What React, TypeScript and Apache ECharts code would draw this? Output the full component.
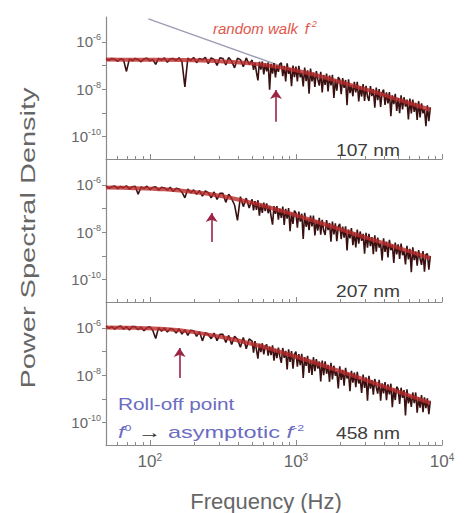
import { useEffect, useRef } from "react";
import * as echarts from "echarts";

// log10 of frequency (Hz), shared sampling grid of the three spectra
const logFreq = [
  1.70, 1.72, 1.74, 1.76, 1.78, 1.80, 1.82, 1.84, 1.86, 1.88,
  1.90, 1.92, 1.94, 1.96, 1.98, 2.00, 2.02, 2.04, 2.06, 2.08,
  2.10, 2.12, 2.14, 2.16, 2.18, 2.20, 2.22, 2.24, 2.26, 2.28,
  2.30, 2.32, 2.34, 2.36, 2.38, 2.40, 2.42, 2.44, 2.46, 2.48,
  2.50, 2.52, 2.54, 2.56, 2.58, 2.60, 2.62, 2.64, 2.66, 2.68,
  2.70, 2.71, 2.72, 2.73, 2.74, 2.75, 2.76, 2.77, 2.78, 2.79,
  2.80, 2.81, 2.82, 2.83, 2.84, 2.85, 2.86, 2.87, 2.88, 2.89,
  2.90, 2.91, 2.92, 2.93, 2.94, 2.95, 2.96, 2.97, 2.98, 2.99,
  3.00, 3.01, 3.02, 3.03, 3.04, 3.05, 3.06, 3.07, 3.08, 3.09,
  3.10, 3.11, 3.12, 3.13, 3.14, 3.15, 3.16, 3.17, 3.18, 3.19,
  3.20, 3.21, 3.22, 3.23, 3.24, 3.25, 3.26, 3.27, 3.28, 3.29,
  3.30, 3.31, 3.32, 3.33, 3.34, 3.35, 3.36, 3.37, 3.38, 3.39,
  3.40, 3.41, 3.42, 3.43, 3.44, 3.45, 3.46, 3.47, 3.48, 3.49,
  3.50, 3.51, 3.52, 3.53, 3.54, 3.55, 3.56, 3.57, 3.58, 3.59,
  3.60, 3.61, 3.62, 3.63, 3.64, 3.65, 3.66, 3.67, 3.68, 3.69,
  3.70, 3.71, 3.72, 3.73, 3.74, 3.75, 3.76, 3.77, 3.78, 3.79,
  3.80, 3.81, 3.82, 3.83, 3.84, 3.85, 3.86, 3.87, 3.88, 3.89,
  3.90, 3.91, 3.92,
];

// log10 of power spectral density
const log10Psd107nm = [
  -6.72, -6.78, -6.70, -6.74, -6.82, -6.71, -6.76, -7.25, -6.72, -6.80,
  -6.70, -6.75, -6.84, -6.72, -6.69, -6.80, -6.74, -6.95, -6.70, -6.77,
  -6.68, -6.86, -6.72, -6.70, -6.79, -6.67, -6.84, -7.90, -6.69, -6.78,
  -6.66, -6.88, -6.70, -6.76, -6.65, -6.92, -6.68, -6.74, -7.00, -6.67,
  -6.70, -6.98, -6.66, -6.82, -7.10, -6.69, -6.75, -7.05, -6.68, -6.95,
  -6.77, -7.18, -6.89, -7.29, -7.63, -6.84, -7.17, -6.83, -7.38, -6.91,
  -7.25, -6.87, -8.02, -6.93, -7.34, -6.90, -7.50, -7.01, -7.27, -6.93,
  -6.89, -7.45, -7.01, -7.67, -6.91, -7.35, -7.11, -7.87, -7.00, -7.49,
  -7.05, -7.67, -7.01, -7.50, -7.31, -7.88, -7.09, -7.66, -7.20, -8.19,
  -7.13, -7.67, -7.30, -7.90, -7.24, -7.59, -7.85, -7.27, -8.14, -7.40,
  -7.82, -7.34, -8.10, -7.42, -7.84, -7.39, -8.37, -7.59, -8.06, -7.49,
  -7.59, -8.21, -7.53, -7.94, -7.61, -8.68, -7.58, -8.17, -7.83, -8.30,
  -7.69, -8.14, -7.69, -8.52, -7.89, -8.31, -7.78, -8.50, -7.86, -8.31,
  -8.50, -7.87, -8.29, -7.99, -8.78, -7.93, -8.46, -8.00, -8.75, -8.14,
  -8.02, -8.66, -8.13, -8.60, -8.12, -9.14, -8.26, -8.63, -8.20, -8.92,
  -8.39, -9.01, -8.26, -8.85, -8.34, -8.74, -8.44, -9.28, -8.40, -9.02,
  -8.44, -8.96, -8.58, -9.30, -8.50, -9.19, -8.60, -9.02, -8.84, -9.56,
  -8.68, -9.35, -8.77,
];

const log10Psd207nm = [
  -6.06, -6.14, -6.08, -6.05, -6.16, -6.07, -6.12, -6.04, -6.18, -6.08,
  -6.06, -6.40, -6.09, -6.15, -6.06, -6.20, -6.11, -6.08, -6.22, -6.10,
  -6.13, -6.22, -6.10, -6.28, -6.14, -6.18, -6.31, -6.55, -6.17, -6.34,
  -6.21, -6.40, -6.24, -6.48, -6.26, -6.33, -6.55, -6.30, -6.62, -6.36,
  -6.36, -6.74, -6.40, -6.58, -6.85, -7.50, -6.50, -6.92, -6.56, -6.98,
  -6.61, -7.08, -6.69, -7.06, -6.65, -7.30, -6.81, -7.18, -6.75, -7.11,
  -6.78, -7.20, -6.91, -7.33, -7.68, -6.90, -7.23, -6.90, -7.47, -7.00,
  -7.40, -6.92, -7.69, -7.01, -7.43, -6.98, -7.96, -7.18, -7.65, -7.09,
  -7.19, -7.81, -7.13, -7.55, -7.22, -8.29, -7.18, -7.77, -7.44, -7.91,
  -7.30, -7.75, -7.30, -8.14, -7.51, -7.93, -7.39, -8.11, -7.48, -7.93,
  -8.12, -7.49, -7.91, -7.61, -8.40, -7.55, -8.09, -7.63, -8.38, -7.77,
  -7.65, -8.29, -7.76, -8.23, -7.75, -8.77, -7.89, -8.26, -7.83, -8.55,
  -8.02, -8.64, -7.89, -8.48, -7.97, -8.37, -8.07, -8.91, -8.03, -8.65,
  -8.07, -8.59, -8.21, -8.93, -8.13, -8.82, -8.23, -8.65, -8.47, -9.19,
  -8.26, -8.83, -8.40, -9.07, -8.32, -8.76, -8.53, -9.30, -8.44, -8.94,
  -8.51, -9.13, -8.48, -8.97, -8.79, -9.36, -8.58, -9.15, -8.70, -9.69,
  -8.64, -9.18, -8.82, -9.42, -8.76, -9.11, -9.38, -8.80, -9.67, -8.94,
  -8.91, -9.58, -9.00,
];

const log10Psd458nm = [
  -5.93, -6.02, -5.95, -6.05, -5.96, -5.92, -6.06, -5.95, -6.09, -5.94,
  -5.96, -6.08, -5.97, -6.12, -6.00, -5.95, -6.10, -6.45, -5.99, -6.14,
  -6.01, -6.18, -6.03, -6.07, -6.22, -6.04, -6.26, -6.08, -6.32, -6.10,
  -6.12, -6.36, -6.16, -6.55, -6.20, -6.28, -6.46, -6.22, -6.54, -6.27,
  -6.27, -6.62, -6.32, -6.70, -6.36, -6.48, -6.82, -6.41, -6.88, -6.47,
  -6.56, -7.05, -6.56, -6.93, -7.30, -6.67, -7.03, -6.65, -7.12, -6.78,
  -6.70, -7.17, -6.79, -7.15, -6.74, -7.39, -6.91, -7.28, -6.84, -7.21,
  -7.48, -6.85, -7.27, -6.97, -7.76, -6.91, -7.44, -6.98, -7.73, -7.12,
  -7.00, -7.64, -7.11, -7.58, -7.10, -8.12, -7.24, -7.61, -7.18, -7.90,
  -7.37, -7.99, -7.24, -7.83, -7.32, -7.72, -7.42, -8.26, -7.38, -8.00,
  -7.42, -7.94, -7.56, -8.28, -7.48, -8.18, -7.60, -8.02, -7.84, -8.56,
  -7.63, -8.20, -7.77, -8.44, -7.69, -8.14, -7.91, -8.68, -7.82, -8.32,
  -7.89, -8.51, -7.86, -8.35, -8.17, -8.75, -7.97, -8.54, -8.09, -9.08,
  -8.03, -8.57, -8.21, -8.82, -8.16, -8.51, -8.78, -8.20, -9.08, -8.35,
  -8.77, -8.29, -9.06, -8.39, -8.81, -8.36, -9.35, -8.57, -9.05, -8.49,
  -8.59, -9.21, -8.53, -8.96, -8.63, -9.70, -8.60, -9.19, -8.87, -9.34,
  -8.73, -9.18, -8.73, -9.58, -8.95, -9.37, -8.84, -9.56, -8.94, -9.39,
  -8.98, -9.65, -9.08,
];

// fitted (red) curves
const fitLogFreq = [1.70, 1.90, 2.10, 2.30, 2.50, 2.70, 2.90, 3.10, 3.30, 3.50, 3.70, 3.92];
const fit107nm = [-6.75, -6.755, -6.76, -6.78, -6.83, -6.92, -7.09, -7.35, -7.69, -8.05, -8.44, -8.87];
const fit207nm = [-6.115, -6.14, -6.19, -6.30, -6.48, -6.76, -7.10, -7.48, -7.87, -8.27, -8.66, -9.10];
const fit458nm = [-5.98, -6.00, -6.05, -6.18, -6.40, -6.68, -7.03, -7.42, -7.83, -8.25, -8.69, -9.18];

const panelLabels = ["107 nm", "207 nm", "458 nm"];
const rollOffHz = [730, 265, 160];
const arrowTailLogPsd = [-9.38, -8.41, -8.12];
const arrowTipLogPsd = [-8.03, -7.19, -6.85];

// random walk f^-2 guide line (panel 1)
const randomWalkLogFreq = [1.99, 2.9];
const randomWalkLogPsd = [-5.03, -7.03];

const xMajorHz = [100, 1000, 10000];
const xMinorHz = [60, 70, 80, 90, 200, 300, 400, 500, 600, 700, 800, 900, 2000, 3000, 4000, 5000, 6000, 7000, 8000, 9000];
const yMajorExp = [-10, -8, -6];
const yAllExp = [-10, -9, -8, -7, -6];

const X_MIN = 1.7;
const X_MAX = 4.0;
const Y_MIN = -10.95;
const Y_MAX = -4.95;

const FONT = "'Liberation Sans', Arial, Helvetica, sans-serif";
const AXIS = "#8a8a8a";
const LABEL = "#666666";

export default function App() {
  const ref = useRef<HTMLDivElement>(null);

  useEffect(() => {
    if (!ref.current) return;
    const chart = echarts.init(ref.current, null, { renderer: "svg" });

    const psd = [log10Psd107nm, log10Psd207nm, log10Psd458nm];
    const fits = [fit107nm, fit207nm, fit458nm];
    const tops = [17, 160, 303];

    const grids = tops.map((t) => ({ left: 106, width: 336, top: t, height: 142 }));

    const xAxes: any[] = [];
    const yAxes: any[] = [];
    const series: any[] = [];

    for (let i = 0; i < 3; i++) {
      const isBottom = i === 2;
      xAxes.push({
        type: "value",
        gridIndex: i,
        position: "bottom",
        min: X_MIN,
        max: X_MAX,
        axisLine: { show: true, onZero: false, lineStyle: { color: AXIS, width: 1.2 } },
        axisTick: {
          show: true,
          inside: true,
          length: 3,
          customValues: xMinorHz.map((v) => Math.log10(v)),
          lineStyle: { color: AXIS },
        },
        axisLabel: { show: false },
        splitLine: { show: false },
      });
      xAxes.push({
        type: "value",
        gridIndex: i,
        position: "bottom",
        min: X_MIN,
        max: X_MAX,
        axisLine: { show: false, onZero: false },
        axisTick: {
          show: true,
          inside: true,
          length: 5,
          customValues: xMajorHz.map((v) => Math.log10(v)),
          lineStyle: { color: AXIS },
        },
        axisLabel: {
          show: isBottom,
          margin: 7,
          customValues: xMajorHz.map((v) => Math.log10(v)),
          formatter: (v: number) => `{b|10}{s|${Math.round(v)}}`,
          rich: {
            b: { fontSize: 17, color: LABEL, fontFamily: FONT },
            s: { fontSize: 10, color: LABEL, fontFamily: FONT, padding: [0, 0, 9, 0] },
          },
        },
        splitLine: { show: false },
      });
      yAxes.push({
        type: "value",
        gridIndex: i,
        min: Y_MIN,
        max: Y_MAX,
        axisLine: { show: true, onZero: false, lineStyle: { color: AXIS, width: 1.2 } },
        axisTick: {
          show: true,
          inside: false,
          length: 4,
          customValues: yAllExp,
          lineStyle: { color: AXIS },
        },
        axisLabel: {
          show: true,
          margin: 5,
          customValues: yMajorExp,
          formatter: (v: number) => `{b|10}{s|${Math.round(v)}}`,
          rich: {
            b: { fontSize: 15, color: LABEL, fontFamily: FONT },
            s: { fontSize: 9, color: LABEL, fontFamily: FONT, padding: [0, 0, 9, 0] },
          },
        },
        splitLine: { show: false },
      });

      if (i === 0) {
        series.push({
          type: "line",
          xAxisIndex: 0,
          yAxisIndex: 0,
          data: randomWalkLogFreq.map((f, k) => [f, randomWalkLogPsd[k]]),
          symbol: "none",
          lineStyle: { color: "#9c9cb6", width: 1.3 },
          z: 1,
          silent: true,
        });
      }

      const lx = Math.log10(rollOffHz[i]);
      series.push({
        type: "line",
        xAxisIndex: 2 * i,
        yAxisIndex: i,
        data: logFreq.map((f, k) => [f, psd[i][k]]),
        symbol: "none",
        lineStyle: { color: "#3a1010", width: 1.6 },
        z: 2,
        silent: true,
        markLine: {
          silent: true,
          symbol: ["none", "arrow"],
          symbolSize: 9,
          label: { show: false },
          lineStyle: { color: "#9b2545", width: 1.6, type: "solid" },
          data: [[{ coord: [lx, arrowTailLogPsd[i]] }, { coord: [lx, arrowTipLogPsd[i]] }]],
        },
      });
      series.push({
        type: "line",
        xAxisIndex: 2 * i,
        yAxisIndex: i,
        data: fitLogFreq.map((f, k) => [f, fits[i][k]]),
        symbol: "none",
        smooth: 0.3,
        lineStyle: { color: "#b82a2a", width: 4, opacity: 0.8 },
        z: 3,
        silent: true,
      });
    }

    const labelYs = [151, 292, 434];
    const blue = "#6c6cc2";
    const elements: any[] = [
      {
        type: "text",
        x: 28,
        y: 238,
        rotation: Math.PI / 2,
        scaleX: 1.45,
        style: {
          text: "Power Spectral Density",
          fontSize: 20,
          fontFamily: FONT,
          fill: LABEL,
          align: "center",
          textAlign: "center",
          verticalAlign: "middle",
          textVerticalAlign: "middle",
        },
      },
      {
        type: "text",
        x: 266,
        y: 501,
        style: {
          text: "Frequency (Hz)",
          fontSize: 22,
          fontFamily: FONT,
          fill: LABEL,
          align: "center",
          textAlign: "center",
          verticalAlign: "middle",
          textVerticalAlign: "middle",
        },
      },
      {
        type: "text",
        x: 213,
        y: 28,
        style: {
          text: "{t|random walk}  {t|f}{s|-2}",
          fill: "#e0564c",
          fontFamily: FONT,
          align: "left",
          textAlign: "left",
          verticalAlign: "middle",
          textVerticalAlign: "middle",
          rich: {
            t: { fontSize: 15, fontStyle: "italic", fill: "#e0564c", color: "#e0564c", fontFamily: FONT },
            s: { fontSize: 9, fontStyle: "italic", fill: "#e0564c", color: "#e0564c", fontFamily: FONT, padding: [0, 0, 8, 0] },
          },
        },
      },
      {
        type: "text",
        x: 118,
        y: 404,
        scaleX: 1.3,
        style: {
          text: "Roll-off point",
          fontSize: 16,
          fontFamily: FONT,
          fill: blue,
          align: "left",
          textAlign: "left",
          verticalAlign: "middle",
          textVerticalAlign: "middle",
        },
      },
      {
        type: "text",
        x: 118,
        y: 432,
        scaleX: 1.38,
        style: {
          text: "{i|f}{s|0}{a| → }{n|asymptotic }{i|f}{s|-2}",
          fontFamily: FONT,
          fill: blue,
          align: "left",
          textAlign: "left",
          verticalAlign: "middle",
          textVerticalAlign: "middle",
          rich: {
            i: { fontSize: 17, fontStyle: "italic", fill: blue, color: blue, fontFamily: FONT },
            n: { fontSize: 17, fill: blue, color: blue, fontFamily: FONT },
            a: { fontSize: 17, fill: "#333333", color: "#333333", fontFamily: FONT },
            s: { fontSize: 9, fill: blue, color: blue, fontFamily: FONT, padding: [0, 0, 8, 0] },
          },
        },
      },
    ];
    panelLabels.forEach((lab, i) => {
      elements.push({
        type: "text",
        x: 368,
        y: labelYs[i],
        scaleX: 1.2,
        style: {
          text: lab,
          fontSize: 16,
          fontFamily: FONT,
          fill: "#3c3c3c",
          align: "center",
          textAlign: "center",
          verticalAlign: "middle",
          textVerticalAlign: "middle",
        },
      });
    });

    chart.setOption({
      animation: false,
      backgroundColor: "#ffffff",
      grid: grids,
      xAxis: xAxes,
      yAxis: yAxes,
      series,
      graphic: { elements },
    });

    return () => chart.dispose();
  }, []);

  return (
    <div
      ref={ref}
      style={{ position: "fixed", left: 0, top: 0, width: 471, height: 513, background: "#fff" }}
    />
  );
}
